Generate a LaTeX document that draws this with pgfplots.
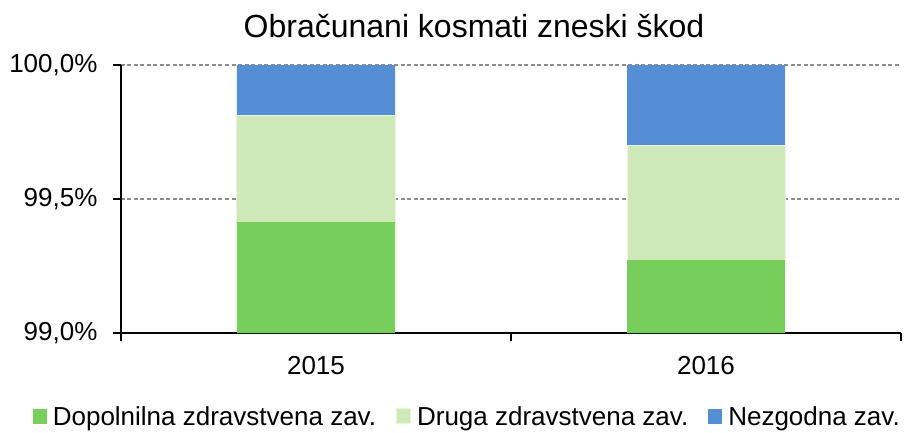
\documentclass[border=0pt]{standalone}
\usepackage{fontspec}
\setmainfont{Liberation Sans}
\usepackage{pgfplots}
\pgfplotsset{compat=1.18}

\definecolor{dopolnilna}{HTML}{78CE5A}
\definecolor{druga}{HTML}{CFE8B7}
\definecolor{nezgodna}{HTML}{558ED5}
\definecolor{gridgray}{HTML}{8C8C8C}

\begin{document}
\begin{tikzpicture}
\useasboundingbox (-121pt,-99pt) rectangle (791pt,333pt);
\begin{axis}[
    scale only axis,
    width=780pt, height=268pt,
    ybar stacked,
    bar width=158pt,
    xmin=-0.5, xmax=1.5,
    ymin=99, ymax=100,
    xtick={-0.5,0.5,1.5},
    x tick label as interval,
    xticklabels={2015,2016},
    xticklabel style={yshift=-12pt},
    ytick={99,99.5,100},
    yticklabel={\pgfmathprintnumber[fixed,fixed zerofill,precision=1,use comma]{\tick}\%},
    yticklabel style={xshift=-12pt},
    /pgf/number format/assume math mode=true,
    font=\fontsize{26}{30}\selectfont,
    axis x line*=bottom, axis y line*=left,
    axis line style={-, line width=1.3pt, black},
    tick align=outside,
    major tick length=8pt,
    tick style={line width=1.3pt, black},
    ymajorgrids,
    grid style={gridgray, line width=1.3pt, dash pattern=on 4pt off 2.5pt},
    title={Obračunani kosmati zneski škod},
    title style={at={(0.4526,1)}, anchor=base, yshift=22pt, font=\fontsize{32}{36}\selectfont},
    legend columns=3,
    legend style={at={(0.444,-0.312)}, anchor=center, draw=none, fill=none,
        font=\fontsize{26}{30}\selectfont,
        /tikz/every odd column/.append style={column sep=4pt},
        /tikz/every even column/.append style={column sep=18pt}},
    legend image code/.code={\fill[#1] (0pt,-7pt) rectangle (14pt,8pt);},
]
\addplot[fill=dopolnilna, draw=none] coordinates {(0,99.414) (1,99.272)};
\addplot[fill=druga, draw=white!55!druga, line width=1pt] coordinates {(0,0.399) (1,0.429)};
\addplot[fill=nezgodna, draw=none] coordinates {(0,0.187) (1,0.299)};
\legend{Dopolnilna zdravstvena zav.,Druga zdravstvena zav.,Nezgodna zav.}
\end{axis}
\end{tikzpicture}
\end{document}
